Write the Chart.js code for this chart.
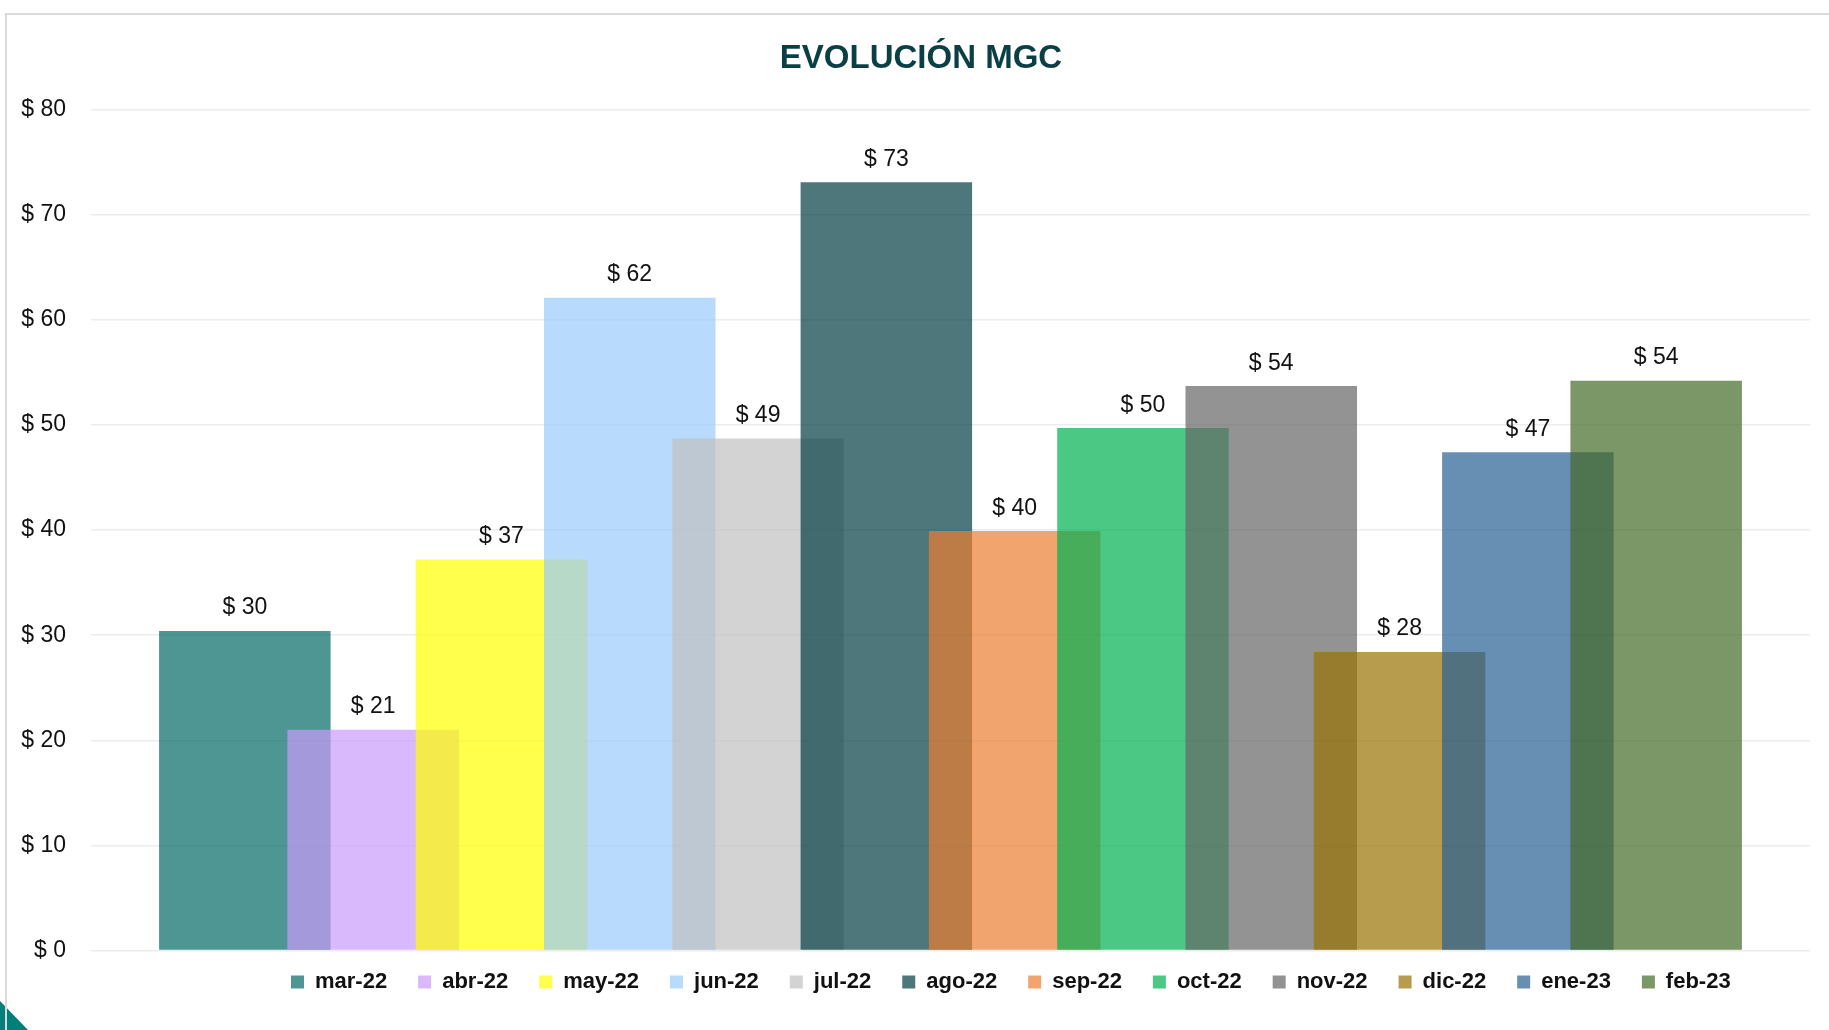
<!DOCTYPE html>
<html>
<head>
<meta charset="utf-8">
<script src="https://cdn.jsdelivr.net/npm/chart.js@4.4.1/dist/chart.umd.min.js"></script>
<style>
  html, body { margin: 0; padding: 0; background: #ffffff; overflow: hidden; width: 1829px; height: 1030px; }
  #corner { position: absolute; left: 0; top: 1001px; width: 28px; height: 29px; background: #00807b;
            clip-path: polygon(0 0, 100% 100%, 0 100%); }
  #frame { position: absolute; left: 5px; top: 13px; width: 2000px; height: 1200px;
           border: 2px solid #d9d9d9; box-sizing: border-box; }
  #wrap { position: absolute; left: 0; top: 0; width: 1829px; height: 1030px; }
</style>
</head>
<body>
<div id="corner"></div>
<div id="frame"></div>
<div id="wrap"><canvas id="c" width="1829" height="1030"></canvas></div>
<script>
// ---- data ----
const chartTitle = 'EVOLUCIÓN MGC';
const months = ['mar-22', 'abr-22', 'may-22', 'jun-22', 'jul-22', 'ago-22',
                'sep-22', 'oct-22', 'nov-22', 'dic-22', 'ene-23', 'feb-23'];
const values = [30.4, 21.0, 37.2, 62.1, 48.7, 73.1, 39.9, 49.7, 53.7, 28.4, 47.4, 54.2];
const yMin = 0, yMax = 80, yStep = 10;
const currencyPrefix = '$ ';

// ---- styles ----
const palette = [
  'rgba(2,105,101,0.7)', 'rgba(201,154,249,0.7)', 'rgba(255,255,0,0.7)', 'rgba(152,202,252,0.7)',
  'rgba(192,192,192,0.7)', 'rgba(2,61,65,0.7)', 'rgba(236,125,49,0.7)', 'rgba(0,177,81,0.7)',
  'rgba(101,101,101,0.7)', 'rgba(152,114,2,0.7)', 'rgba(38,94,147,0.7)', 'rgba(67,105,39,0.7)'
];
const FONT = "'Liberation Sans', Arial, sans-serif";

// one bar per month; later months are drawn on top (lower order = drawn last)
const datasets = months.map((m, i) => ({
  label: m,
  data: [{ x: i, y: values[i] }],
  backgroundColor: palette[i],
  borderWidth: 0,
  order: months.length - i
}));

const barLabels = {
  id: 'barLabels',
  afterDatasetsDraw(chart) {
    const ctx = chart.ctx;
    ctx.save();
    ctx.font = '23px ' + FONT;
    ctx.fillStyle = '#111111';
    ctx.textAlign = 'center';
    ctx.textBaseline = 'alphabetic';
    chart.data.datasets.forEach((ds, di) => {
      const meta = chart.getDatasetMeta(di);
      meta.data.forEach((bar, j) => {
        ctx.fillText(currencyPrefix + Math.round(ds.data[j].y), bar.x, bar.y - 16.5);
      });
    });
    ctx.restore();
  }
};

const nudge = {
  id: 'nudge',
  afterLayout(chart) {
    const lg = chart.legend;
    if (lg) {
      const w = lg.right - lg.left, h = lg.bottom - lg.top;
      lg.left = 260; lg.right = lg.left + w;
      lg.top = chart.chartArea.bottom - 10.5; lg.bottom = lg.top + h;
    }
    const t = chart.titleBlock;
    if (t) { t.left += 16; t.right += 16; }
  }
};

new Chart(document.getElementById('c'), {
  type: 'bar',
  data: { datasets: datasets },
  plugins: [barLabels, nudge],
  options: {
    responsive: false,
    devicePixelRatio: 1,
    animation: false,
    layout: { padding: { left: 0, right: 19, top: 0, bottom: 16.5 } },
    datasets: { bar: { grouped: false, categoryPercentage: 1, barPercentage: 1.3367 } },
    plugins: {
      title: {
        display: true, text: chartTitle, color: '#0a3f46',
        font: { family: FONT, size: 33, weight: 'bold' },
        padding: { top: 39, bottom: 31 }
      },
      legend: {
        position: 'bottom', align: 'start',
        labels: {
          boxWidth: 13, boxHeight: 13, padding: 31, color: '#111111',
          font: { family: FONT, size: 22, weight: 'bold' },
          sort: (a, b) => a.datasetIndex - b.datasetIndex
        }
      },
      tooltip: { enabled: false }
    },
    scales: {
      x: {
        type: 'linear', display: false, offset: false, min: -1.199, max: 12.199,
        ticks: { stepSize: 1, includeBounds: false }
      },
      y: {
        min: yMin, max: yMax,
        ticks: {
          stepSize: yStep, padding: 25, color: '#111111',
          font: { family: FONT, size: 23 },
          callback: v => currencyPrefix + v
        },
        grid: { color: '#ececec', lineWidth: 1.5, drawTicks: false },
        border: { display: false },
        afterFit: s => { s.width = 91; }
      }
    }
  }
});
</script>
</body>
</html>
